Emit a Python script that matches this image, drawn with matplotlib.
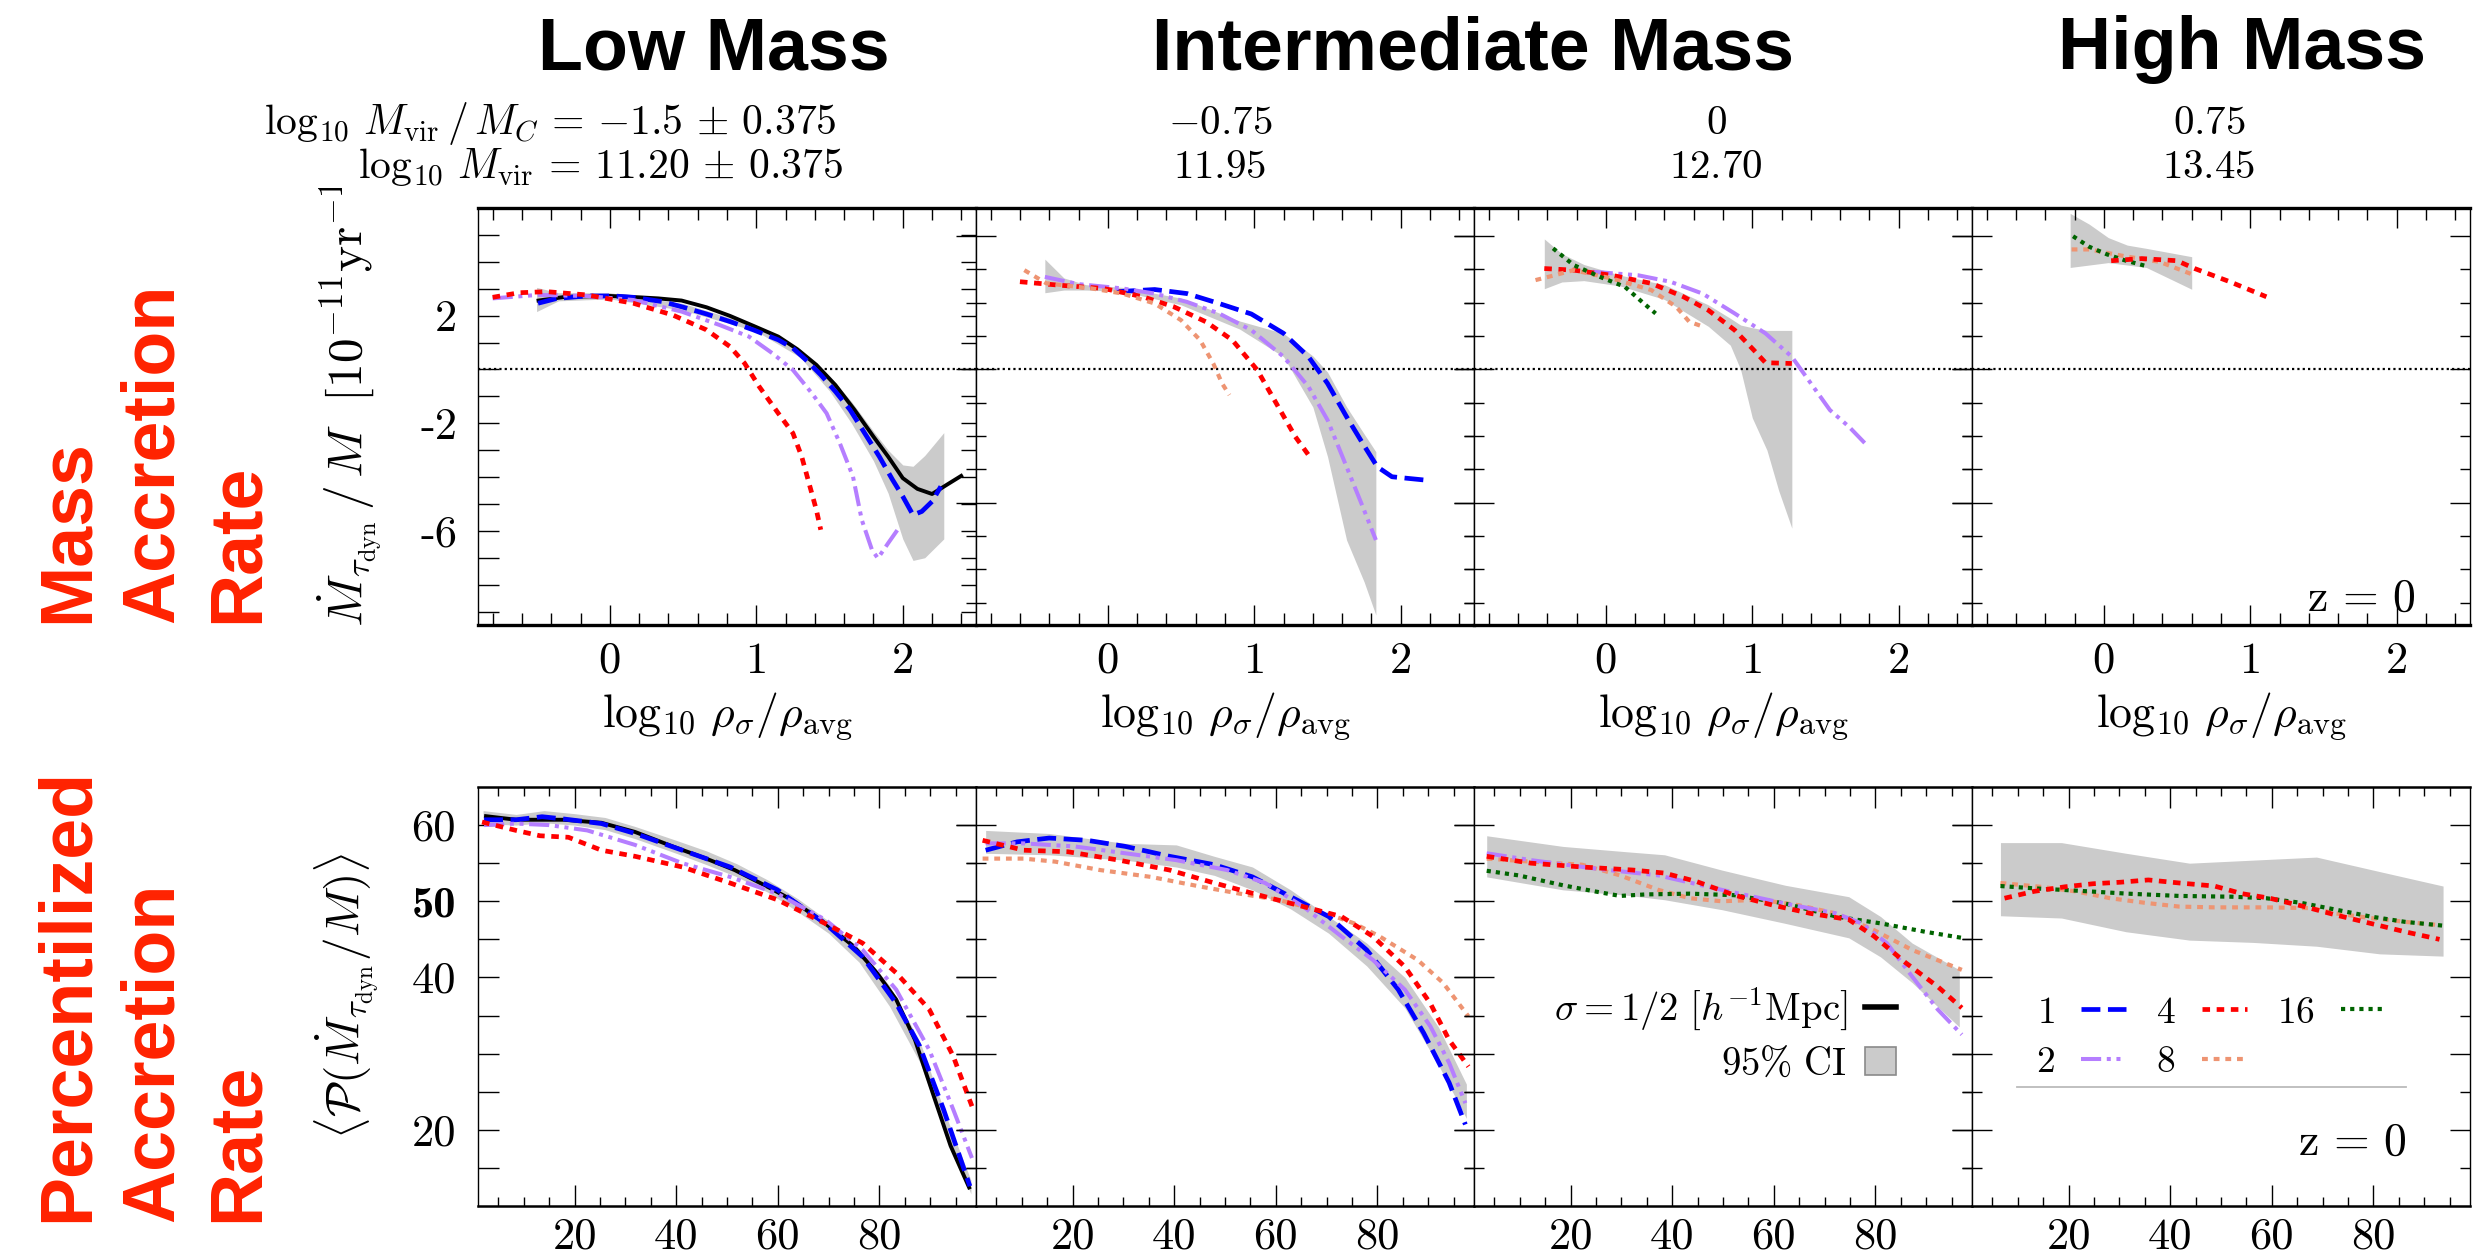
import numpy as np
import matplotlib
matplotlib.use('Agg')
import matplotlib.pyplot as plt
from matplotlib.lines import Line2D
from matplotlib.patches import Patch
from matplotlib.ticker import MultipleLocator, FixedLocator
from matplotlib.transforms import Bbox, TransformedBbox
from matplotlib.font_manager import FontProperties

plt.rcParams['mathtext.fontset'] = 'cm'
plt.rcParams['font.family'] = ['DejaVu Sans']

W, H, DPI = 2487, 1256, 100

# ---------------- text ----------------
mass_titles = ['Low Mass', 'Intermediate Mass', 'High Mass']
row_label_top = ['Mass', 'Accretion', 'Rate']
row_label_bot = ['Percentilized', 'Accretion', 'Rate']
mc_labels = [r'$\log_{10}\,M_{\rm vir}\,/\,M_C \,=\, {-1.5} \,\pm\, 0.375$', r'$-0.75$', r'$0$', r'$0.75$']
mvir_labels = [r'$\log_{10}\,M_{\rm vir} \,=\, 11.20 \,\pm\, 0.375$', r'$11.95$', r'$12.70$', r'$13.45$']
sigma_names = ['1', '2', '4', '8', '16']
half_label = r'$\sigma = 1/2\ [h^{-1}{\rm Mpc}]$'
ci_label = r'$95\%\ {\rm CI}$'
z_label = r'${\rm z}\, =\, 0$'
top_xlabel = r'$\log_{10}\,\rho_\sigma/\rho_{\rm avg}$'
top_ylabel = r'$\dot{M}_{\tau_{\rm dyn}}\,/\,M\ \ [10^{-11}{\rm yr}^{-1}]$'
bot_ylabel = r'$\langle\mathcal{P}(\dot{M}_{\tau_{\rm dyn}}/M)\rangle$'

top_xticks = [0, 1, 2]
top_xtick_labels = ['0', '1', '2']
top_yticks_p1 = list(range(-9, 6))
top_ytick_label_map = {2: '2', -2: '-2', -6: '-6'}
bot_xticks = [20, 40, 60, 80]
bot_xtick_labels = ['20', '40', '60', '80']
bot_yticks = [15, 20, 25, 30, 35, 40, 45, 50, 55, 60]
bot_ytick_label_map = {20: '20', 40: '40', 50: '50', 60: '60'}

# ---------------- data: top row (log10 rho_sigma/rho_avg) ----------------
# Low mass
t0_half_x = [-0.5, -0.3, 0.0, 0.2, 0.33, 0.49, 0.66, 0.82, 0.98, 1.15, 1.28, 1.41, 1.54, 1.67, 1.8, 1.9, 2.0, 2.1, 2.2, 2.3, 2.41]
t0_half_y = [2.55, 2.7, 2.73, 2.68, 2.64, 2.56, 2.31, 1.99, 1.62, 1.22, 0.75, 0.17, -0.58, -1.5, -2.5, -3.24, -4.04, -4.44, -4.63, -4.29, -3.92]
t0_s1_x = [-0.49, -0.36, -0.16, 0.03, 0.16, 0.36, 0.49, 0.66, 0.82, 0.98, 1.15, 1.25, 1.34, 1.44, 1.54, 1.64, 1.74, 1.84, 1.93, 2.0, 2.07, 2.13, 2.2, 2.26]
t0_s1_y = [2.46, 2.64, 2.73, 2.73, 2.68, 2.52, 2.33, 2.06, 1.78, 1.47, 1.1, 0.79, 0.35, -0.2, -0.82, -1.5, -2.37, -3.24, -4.1, -4.72, -5.41, -5.28, -4.91, -4.35]
t0_s2_x = [-0.8, -0.49, -0.16, 0.16, 0.49, 0.75, 0.95, 1.11, 1.25, 1.38, 1.48, 1.57, 1.66, 1.72, 1.79, 1.83, 1.9, 1.98]
t0_s2_y = [2.64, 2.77, 2.73, 2.58, 2.15, 1.65, 1.22, 0.6, -0.02, -0.89, -1.63, -2.74, -3.98, -5.59, -6.71, -7.02, -6.46, -5.84]
t0_s4_x = [-0.8, -0.62, -0.43, -0.16, 0.16, 0.43, 0.66, 0.82, 0.92, 1.02, 1.15, 1.25, 1.31, 1.36, 1.41, 1.44]
t0_s4_y = [2.68, 2.85, 2.89, 2.77, 2.46, 2.02, 1.47, 0.85, 0.23, -0.64, -1.63, -2.37, -3.24, -4.23, -5.22, -5.96]
t0_ci_x = [-0.5, -0.35, 0.0, 0.5, 1.0, 1.3, 1.5, 1.65, 1.8, 1.9, 2.0, 2.07, 2.15, 2.28]
t0_ci_hi = [3.05, 2.85, 2.85, 2.45, 1.62, 0.75, -0.25, -1.2, -2.3, -3.0, -3.55, -3.6, -3.2, -2.35]
t0_ci_lo = [2.15, 2.55, 2.62, 2.2, 1.42, 0.45, -0.8, -2.0, -3.4, -4.6, -6.3, -7.1, -7.0, -6.3]

# Intermediate mass (-0.75)
t1_s1_x = [0.06, 0.32, 0.54, 0.76, 0.98, 1.2, 1.37, 1.5, 1.63, 1.74, 1.84, 1.94, 2.16]
t1_s1_y = [2.89, 2.97, 2.82, 2.45, 2.06, 1.34, 0.47, -0.52, -1.76, -2.75, -3.62, -3.99, -4.11]
t1_s2_x = [-0.43, -0.2, 0.1, 0.32, 0.54, 0.76, 0.98, 1.2, 1.37, 1.5, 1.63, 1.74, 1.83]
t1_s2_y = [3.44, 3.17, 3.01, 2.82, 2.51, 2.08, 1.46, 0.47, -0.64, -1.88, -3.62, -5.1, -6.34]
t1_s4_x = [-0.6, -0.33, -0.03, 0.24, 0.45, 0.67, 0.85, 1.02, 1.15, 1.28, 1.37]
t1_s4_y = [3.26, 3.13, 3.01, 2.7, 2.33, 1.77, 1.09, -0.02, -1.26, -2.5, -3.18]
t1_s8_x = [-0.57, -0.42, -0.11, 0.1, 0.32, 0.5, 0.63, 0.72, 0.78, 0.83]
t1_s8_y = [3.69, 3.2, 3.01, 2.82, 2.45, 1.83, 1.09, 0.22, -0.52, -0.95]
t1_ci_x = [-0.43, -0.3, -0.15, 0.1, 0.5, 0.9, 1.2, 1.4, 1.5, 1.63, 1.75, 1.83]
t1_ci_hi = [4.1, 3.4, 3.15, 3.05, 2.65, 1.8, 1.34, 0.5, -0.1, -1.39, -2.4, -3.06]
t1_ci_lo = [2.85, 2.95, 2.95, 2.9, 2.4, 1.5, 0.47, -1.4, -3.24, -6.34, -7.9, -9.13]

# Intermediate mass (0)
t2_s2_x = [-0.09, 0.22, 0.44, 0.66, 0.88, 1.09, 1.27, 1.4, 1.53, 1.66, 1.77]
t2_s2_y = [3.63, 3.5, 3.26, 2.82, 2.08, 1.34, 0.47, -0.52, -1.51, -2.13, -2.75]
t2_s4_x = [-0.42, -0.22, 0.04, 0.31, 0.53, 0.7, 0.88, 1.01, 1.09, 1.27]
t2_s4_y = [3.75, 3.69, 3.5, 3.2, 2.7, 2.2, 1.46, 0.72, 0.25, 0.22]
t2_s8_x = [-0.48, -0.35, -0.22, 0.04, 0.31, 0.48, 0.57, 0.68]
t2_s8_y = [3.32, 3.5, 3.69, 3.38, 2.95, 2.33, 1.77, 1.56]
t2_s16_x = [-0.36, -0.22, -0.04, 0.13, 0.26, 0.34]
t2_s16_y = [4.5, 3.88, 3.44, 3.07, 2.45, 2.08]
t2_ci_x = [-0.42, -0.3, -0.15, 0.1, 0.4, 0.7, 0.85, 0.92, 1.0, 1.1, 1.18, 1.27]
t2_ci_hi = [4.85, 4.3, 3.9, 3.5, 3.15, 2.4, 1.9, 1.65, 1.55, 1.45, 1.45, 1.45]
t2_ci_lo = [3.0, 3.25, 3.3, 3.1, 2.6, 1.6, 0.9, 0.0, -1.8, -3.0, -4.5, -5.9]

# High mass
t3_s4_x = [0.05, 0.26, 0.5, 0.62, 0.86, 1.11]
t3_s4_y = [4.04, 4.12, 4.04, 3.75, 3.26, 2.7]
t3_s8_x = [-0.22, -0.1, 0.14, 0.38, 0.6]
t3_s8_y = [4.46, 4.46, 4.21, 4.0, 3.54]
t3_s16_x = [-0.21, -0.1, 0.02, 0.14, 0.29]
t3_s16_y = [4.95, 4.56, 4.28, 4.06, 3.84]
t3_ci_x = [-0.23, -0.1, 0.03, 0.16, 0.29, 0.6]
t3_ci_hi = [5.8, 5.4, 4.9, 4.62, 4.5, 4.19]
t3_ci_lo = [3.79, 3.88, 3.97, 3.88, 3.79, 2.98]

# ---------------- data: bottom row (percentile) ----------------
b0_half_x = [2.2, 8.5, 17.9, 25.3, 31.9, 39.3, 45.9, 51.5, 58.0, 62.7, 69.3, 74.9, 79.5, 83.3, 87.0, 90.7, 94.0, 97.8]
b0_half_y = [61.2, 60.7, 60.7, 60.3, 59.1, 57.2, 55.6, 54.1, 51.9, 50.2, 47.1, 44.1, 40.6, 37.1, 31.8, 24.4, 17.9, 12.2]
b0_s1_x = [2.2, 8.5, 13.6, 17.9, 25.3, 31.9, 41.2, 50.6, 59.9, 69.3, 76.7, 83.3, 87.9, 92.6, 97.8]
b0_s1_y = [60.7, 60.7, 61.1, 60.8, 60.2, 58.9, 56.7, 54.5, 51.5, 47.1, 42.7, 36.6, 31.0, 22.7, 12.6]
b0_s2_x = [2.2, 8.5, 15.0, 22.5, 31.9, 41.2, 50.6, 59.9, 69.3, 76.7, 83.3, 89.8, 94.5, 98.2]
b0_s2_y = [60.0, 60.2, 60.0, 59.3, 57.4, 55.0, 53.2, 51.0, 47.6, 43.6, 38.4, 30.5, 22.7, 16.3]
b0_s4_x = [1.8, 8.5, 13.2, 18.8, 25.3, 31.9, 41.2, 50.6, 59.9, 69.3, 76.7, 83.3, 89.8, 94.5, 98.2]
b0_s4_y = [60.4, 59.3, 58.6, 58.4, 56.7, 55.9, 54.5, 52.4, 50.2, 47.1, 44.5, 40.6, 35.8, 29.7, 23.1]
b0_ci_x = [2, 8.5, 14, 20, 26, 32, 40, 46, 52, 58, 64, 70, 76, 82, 88, 93, 98]
b0_ci_hi = [61.9, 61.4, 61.9, 61.5, 61.0, 59.8, 58.0, 56.6, 54.9, 52.8, 50.3, 47.4, 43.8, 38.9, 31.5, 22.0, 13.4]
b0_ci_lo = [60.2, 60.0, 60.3, 60.0, 59.4, 58.2, 56.3, 54.8, 53.2, 51.2, 48.6, 45.8, 42.0, 36.2, 28.8, 19.5, 11.6]

b1_s1_x = [2.9, 9.1, 15.4, 22.9, 30.4, 39.1, 47.9, 55.4, 62.9, 70.4, 77.9, 84.1, 89.1, 94.1, 97.3]
b1_s1_y = [56.7, 57.8, 58.3, 58.0, 57.2, 55.9, 54.8, 53.2, 50.6, 48.0, 43.6, 38.4, 32.7, 26.2, 20.7]
b1_s2_x = [2.9, 10.4, 20.4, 30.4, 40.4, 50.4, 57.9, 65.4, 72.9, 79.1, 85.4, 90.4, 94.1, 97.3]
b1_s2_y = [57.6, 57.6, 57.2, 56.3, 55.4, 54.1, 52.4, 49.3, 45.4, 42.3, 38.4, 33.6, 28.8, 23.5]
b1_s4_x = [2.3, 10.4, 19.1, 29.1, 39.1, 47.9, 57.9, 65.4, 72.9, 79.1, 85.4, 90.4, 94.1, 97.9]
b1_s4_y = [58.0, 56.7, 56.5, 55.4, 54.1, 52.4, 50.6, 49.3, 48.0, 45.4, 41.4, 36.6, 31.8, 28.3]
b1_s8_x = [2.3, 10.4, 16.6, 25.4, 35.4, 45.4, 52.9, 60.4, 67.9, 75.4, 80.4, 87.9, 92.9, 97.9]
b1_s8_y = [55.6, 55.6, 55.2, 54.1, 53.2, 51.9, 51.0, 50.2, 48.9, 47.1, 45.4, 42.3, 39.3, 34.9]
b1_ci_x = [2.9, 15.4, 30.4, 40.4, 47.9, 55.4, 62.9, 70.4, 77.9, 85.4, 92, 97.5]
b1_ci_hi = [59.3, 58.9, 57.6, 57.4, 55.9, 54.5, 51.5, 48.0, 44.5, 40.0, 33.5, 26.0]
b1_ci_lo = [56.3, 56.1, 55.4, 54.5, 53.4, 51.5, 49.0, 45.8, 41.5, 36.0, 28.5, 21.5]

b2_s2_x = [3.5, 12.25, 24.75, 37.25, 49.75, 62.25, 72.25, 77.25, 82.25, 87.25, 92.25, 97.0]
b2_s2_y = [56.3, 55.4, 54.3, 53.4, 51.5, 49.7, 48.4, 47.1, 44.5, 40.1, 35.8, 32.5]
b2_s4_x = [3.5, 12.25, 22.25, 32.25, 38.5, 44.75, 52.25, 59.75, 67.25, 74.75, 79.75, 86.0, 92.25, 97.0]
b2_s4_y = [55.9, 55.0, 54.5, 54.1, 53.7, 52.6, 50.8, 49.5, 48.4, 47.6, 45.4, 41.9, 38.8, 36.0]
b2_s8_x = [3.5, 12.25, 22.25, 29.75, 37.25, 43.5, 49.75, 57.25, 64.75, 72.25, 79.75, 87.25, 97.0]
b2_s8_y = [55.6, 55.2, 54.8, 53.4, 51.5, 50.4, 50.0, 50.2, 49.5, 48.4, 46.2, 43.6, 41.0]
b2_s16_x = [3.5, 9.75, 18.5, 24.75, 29.75, 34.75, 43.5, 52.25, 62.25, 72.25, 81.0, 89.75, 97.0]
b2_s16_y = [54.0, 53.4, 52.1, 51.3, 50.7, 50.9, 51.0, 50.8, 49.7, 48.0, 47.1, 46.0, 45.2]
b2_ci_x = [3.5, 18.5, 31.0, 38.5, 49.75, 62.25, 74.75, 81.0, 87.25, 96.5]
b2_ci_hi = [58.6, 57.2, 56.5, 56.1, 54.1, 52.1, 50.6, 48.0, 44.5, 41.0]
b2_ci_lo = [53.2, 51.5, 50.8, 50.2, 48.9, 47.1, 45.2, 42.7, 39.3, 33.5]

b3_s4_x = [7.4, 13.2, 19.3, 24.8, 30.2, 35.7, 41.8, 48.7, 54.1, 59.6, 66.4, 72.6, 79.4, 86.2, 93.0]
b3_s4_y = [50.4, 51.3, 51.9, 52.3, 52.5, 52.8, 52.4, 52.0, 51.0, 50.4, 49.3, 48.2, 47.1, 46.0, 45.0]
b3_s8_x = [6.6, 14.5, 21.4, 28.2, 35.0, 41.8, 48.7, 58.9, 67.8, 72.6, 79.4, 86.2, 92.4]
b3_s8_y = [52.4, 51.9, 51.3, 50.4, 49.8, 49.3, 49.2, 49.2, 49.1, 48.4, 47.8, 47.3, 46.9]
b3_s16_x = [6.6, 13.2, 21.4, 31.6, 41.8, 52.1, 58.9, 65.7, 72.6, 79.4, 86.2, 93.7]
b3_s16_y = [52.0, 51.7, 51.4, 51.0, 50.7, 50.6, 50.4, 49.8, 48.9, 48.0, 47.3, 46.8]
b3_ci_x = [6.6, 18.6, 31.3, 43.8, 56.3, 68.8, 81.2, 93.7]
b3_ci_hi = [57.7, 57.7, 56.3, 55.0, 55.4, 55.8, 53.9, 52.0]
b3_ci_lo = [48.1, 47.8, 46.0, 44.9, 44.6, 44.1, 43.1, 42.8]

# ---------------- styles ----------------
PURPLE = '#B57EFF'
SALMON = '#EE9472'
STYLE = {
    'half': dict(color='black', lw=2.8, ls='-'),
    '1': dict(color='#0000FF', lw=3.4, dashes=(4.0, 1.6)),
    '2': dict(color=PURPLE, lw=2.9, dashes=(5.0, 1.4, 1.0, 1.4, 1.0, 1.4)),
    '4': dict(color='#FF0000', lw=3.4, dashes=(1.6, 1.4)),
    '8': dict(color=SALMON, lw=3.0, dashes=(1.4, 1.4)),
    '16': dict(color='#006400', lw=3.0, dashes=(1.0, 1.2)),
}
BAND = '#CBCBCB'

top_panels = [
    dict(ci=(t0_ci_x, t0_ci_lo, t0_ci_hi), lines=[('half', t0_half_x, t0_half_y), ('1', t0_s1_x, t0_s1_y), ('2', t0_s2_x, t0_s2_y), ('4', t0_s4_x, t0_s4_y)]),
    dict(ci=(t1_ci_x, t1_ci_lo, t1_ci_hi), lines=[('1', t1_s1_x, t1_s1_y), ('2', t1_s2_x, t1_s2_y), ('4', t1_s4_x, t1_s4_y), ('8', t1_s8_x, t1_s8_y)]),
    dict(ci=(t2_ci_x, t2_ci_lo, t2_ci_hi), lines=[('2', t2_s2_x, t2_s2_y), ('4', t2_s4_x, t2_s4_y), ('8', t2_s8_x, t2_s8_y), ('16', t2_s16_x, t2_s16_y)]),
    dict(ci=(t3_ci_x, t3_ci_lo, t3_ci_hi), lines=[('8', t3_s8_x, t3_s8_y), ('16', t3_s16_x, t3_s16_y), ('4', t3_s4_x, t3_s4_y)]),
]
bot_panels = [
    dict(ci=(b0_ci_x, b0_ci_lo, b0_ci_hi), lines=[('half', b0_half_x, b0_half_y), ('1', b0_s1_x, b0_s1_y), ('2', b0_s2_x, b0_s2_y), ('4', b0_s4_x, b0_s4_y)]),
    dict(ci=(b1_ci_x, b1_ci_lo, b1_ci_hi), lines=[('8', b1_s8_x, b1_s8_y), ('1', b1_s1_x, b1_s1_y), ('2', b1_s2_x, b1_s2_y), ('4', b1_s4_x, b1_s4_y)]),
    dict(ci=(b2_ci_x, b2_ci_lo, b2_ci_hi), lines=[('8', b2_s8_x, b2_s8_y), ('16', b2_s16_x, b2_s16_y), ('2', b2_s2_x, b2_s2_y), ('4', b2_s4_x, b2_s4_y)]),
    dict(ci=(b3_ci_x, b3_ci_lo, b3_ci_hi), lines=[('8', b3_s8_x, b3_s8_y), ('16', b3_s16_x, b3_s16_y), ('4', b3_s4_x, b3_s4_y)]),
]

# ---------------- layout helpers ----------------
def fx(x):
    return x / W

def fy(y):
    return 1 - y / H

def px_rect(left, top, width, height):
    return [left / W, 1 - (top + height) / H, width / W, height / H]

PANEL_L, PANEL_W = 478, 498
TOP_T, TOP_H = 208, 417
BOT_T, BOT_H = 787, 419
CM = FontProperties(family='cmr10', size=32)
CMB = FontProperties(family='cmb10', size=32)

fig = plt.figure(figsize=(W / DPI, H / DPI), dpi=DPI)

STEP = 100 / 80.75  # spacing of the second tick set on panels 2-4


def style_spines(ax, top_lw, bot_lw):
    ax.spines['top'].set_linewidth(top_lw)
    ax.spines['bottom'].set_linewidth(bot_lw)
    ax.spines['left'].set_linewidth(1.0)
    ax.spines['right'].set_linewidth(1.0)


def right_ticks(ax, major, minor, direction, lmaj, lmin):
    axr = ax.twinx()
    axr.set_ylim(ax.get_ylim())
    for s in axr.spines.values():
        s.set_visible(False)
    axr.yaxis.set_major_locator(FixedLocator(major))
    axr.yaxis.set_minor_locator(FixedLocator(minor))
    axr.tick_params(axis='y', which='major', direction=direction, length=lmaj, width=1.0,
                    right=True, left=False, labelright=False)
    axr.tick_params(axis='y', which='minor', direction=direction, length=lmin, width=1.0,
                    right=True, left=False)
    return axr


# ---------------- top row ----------------
top_axes = []
for i, pdata in enumerate(top_panels):
    ax = fig.add_axes(px_rect(PANEL_L + i * PANEL_W, TOP_T, PANEL_W, TOP_H))
    top_axes.append(ax)
    ax.set_xlim(-0.9, 2.5)
    ax.set_ylim(-9.5, 6)
    cx, clo, chi = pdata['ci']
    ax.fill_between(cx, clo, chi, color=BAND, lw=0, zorder=1)
    ax.axhline(0, color='black', lw=1.6, ls=(0, (1, 1.4)), zorder=2)
    for name, xs, ys in pdata['lines']:
        ax.plot(xs, ys, zorder=3, solid_capstyle='butt', dash_capstyle='butt', **STYLE[name])
    style_spines(ax, 2.4, 2.4)
    ax.set_xticks(top_xticks)
    ax.set_xticklabels(top_xtick_labels, fontproperties=CM)
    ax.xaxis.set_minor_locator(MultipleLocator(0.2))
    ax.tick_params(axis='x', which='major', direction='in', top=True, bottom=True,
                   length=14.5, width=1.0, pad=12)
    ax.tick_params(axis='x', which='minor', direction='in', top=True, bottom=True,
                   length=8.5, width=1.0)
    ax.set_xlabel(top_xlabel, fontsize=33, labelpad=6)
    if i == 0:
        ax.set_yticks(top_yticks_p1)
        ax.set_yticklabels([top_ytick_label_map.get(v, '') for v in top_yticks_p1], fontproperties=CM)
        ax.tick_params(axis='y', which='major', direction='in', left=True, right=False,
                       length=15, width=1.0, pad=15)
        right_ticks(ax, top_yticks_p1, [], 'inout', 22, 11)
    else:
        ks = list(range(-7, 5))
        ax.yaxis.set_major_locator(FixedLocator([k * STEP for k in ks if k % 4 == 0]))
        ax.yaxis.set_minor_locator(FixedLocator([k * STEP for k in ks if k % 4 != 0]))
        ax.tick_params(axis='y', which='major', direction='inout', left=True, right=False,
                       length=29, width=1.0, labelleft=False)
        ax.tick_params(axis='y', which='minor', direction='inout', left=True, right=False,
                       length=14, width=1.0)
        last = (i == 3)
        right_ticks(ax, [k * STEP for k in ks if k % 4 == 0], [k * STEP for k in ks if k % 4 != 0],
                    'in' if last else 'inout', 14.5 if last else 29, 7 if last else 14)

top_axes[3].text(0.89, 0.035, z_label, transform=top_axes[3].transAxes, ha='right',
                 va='baseline', fontsize=33)

# ---------------- bottom row ----------------
bot_axes = []
for i, pdata in enumerate(bot_panels):
    ax = fig.add_axes(px_rect(PANEL_L + i * PANEL_W, BOT_T, PANEL_W, BOT_H))
    bot_axes.append(ax)
    ax.set_xlim(1, 99)
    ax.set_ylim(10, 65)
    cx, clo, chi = pdata['ci']
    ax.fill_between(cx, clo, chi, color=BAND, lw=0, zorder=1)
    for name, xs, ys in pdata['lines']:
        ax.plot(xs, ys, zorder=3, solid_capstyle='butt', dash_capstyle='butt', **STYLE[name])
    style_spines(ax, 1.8, 1.8)
    ax.set_xticks(bot_xticks)
    ax.set_xticklabels(bot_xtick_labels, fontproperties=CM)
    ax.xaxis.set_minor_locator(FixedLocator([v for v in range(5, 100, 5) if v % 20 != 0]))
    ax.tick_params(axis='x', which='major', direction='in', top=True, bottom=True,
                   length=15, width=1.0, pad=8)
    ax.tick_params(axis='x', which='minor', direction='in', top=True, bottom=True,
                   length=6.5, width=1.0)
    maj = [v for v in bot_yticks if v % 10 == 0]
    mnr = [v for v in bot_yticks if v % 10 != 0]
    if i == 0:
        ax.set_yticks(bot_yticks)
        labs = ax.set_yticklabels([bot_ytick_label_map.get(v, '') for v in bot_yticks])
        for v, lab in zip(bot_yticks, labs):
            lab.set_fontproperties(CMB if v == 50 else CM)
        ax.tick_params(axis='y', which='major', direction='in', left=True, right=False,
                       length=15, width=1.0, pad=16)
        right_ticks(ax, maj, mnr, 'inout', 29, 14)
    else:
        ax.yaxis.set_major_locator(FixedLocator(maj))
        ax.yaxis.set_minor_locator(FixedLocator(mnr))
        ax.tick_params(axis='y', which='major', direction='inout', left=True, right=False,
                       length=29, width=1.0, labelleft=False)
        ax.tick_params(axis='y', which='minor', direction='inout', left=True, right=False,
                       length=14, width=1.0)
        last = (i == 3)
        right_ticks(ax, maj, mnr, 'in' if last else 'inout', 14.5 if last else 29, 7 if last else 14)

bot_axes[3].text(0.873, 0.122, z_label, transform=bot_axes[3].transAxes, ha='right',
                 va='baseline', fontsize=33)

# legend: sigma = 1/2 and CI (panel 3, bottom row)
h_half = Line2D([], [], color='black', lw=4.0)
h_ci = Patch(facecolor=BAND, edgecolor='#8A8A8A', lw=1.2)
bot_axes[2].legend([h_half, h_ci], [half_label, ci_label], loc='center right',
                   bbox_to_anchor=(0.847, 0.41), frameon=False, markerfirst=False,
                   fontsize=28, handlelength=0.8, handletextpad=0.45, borderpad=0,
                   labelspacing=0.3, borderaxespad=0)

# legend: smoothing scales (panel 4, bottom row)
sig_handles = [Line2D([], [], **STYLE[s]) for s in sigma_names]
bot_axes[3].legend(sig_handles, [r'$%s$' % s for s in sigma_names], loc='center left',
                   bbox_to_anchor=(0.128, 0.403), frameon=False, markerfirst=False, ncol=3,
                   fontsize=27, handlelength=1.2, handletextpad=0.7, columnspacing=0.8,
                   borderpad=0, labelspacing=0.35, borderaxespad=0)
bot_axes[3].plot([0.09, 0.871], [0.284, 0.284], transform=bot_axes[3].transAxes,
                 color='#BBBBBB', lw=1.3, zorder=5)

# ---------------- figure texts ----------------
title_font = dict(family='Liberation Sans', weight='bold', size=53)
for name, xc in zip(mass_titles, [714, 1473, 2242]):
    fig.text(fx(xc), fy(69), name, ha='center', va='baseline', **title_font)

fig.text(fx(837), fy(134), mc_labels[0], ha='right', va='baseline', fontsize=30)
fig.text(fx(843), fy(178), mvir_labels[0], ha='right', va='baseline', fontsize=30)
for lab1, lab2, xc in zip(mc_labels[1:], mvir_labels[1:], [1220, 1716, 2209]):
    fig.text(fx(xc), fy(134), lab1, ha='center', va='baseline', fontsize=29.5)
    fig.text(fx(xc), fy(178), lab2, ha='center', va='baseline', fontsize=29.5)

RED = '#FF2200'
for word, xb in zip(row_label_top, [88, 173, 258]):
    fig.text(fx(xb), fy(623), word, rotation=90, rotation_mode='anchor', ha='left',
             va='baseline', color=RED, **title_font)
for word, xb in zip(row_label_bot, [88, 173, 258]):
    fig.text(fx(xb), fy(1222), word, rotation=90, rotation_mode='anchor', ha='left',
             va='baseline', color=RED, **title_font)

tl = fig.text(fx(350), fy(627), top_ylabel, rotation=90, ha='center', va='bottom', fontsize=35.5)
tl.set_clip_box(TransformedBbox(Bbox([[0, 0], [1, fy(188)]]), fig.transFigure))
tl.set_clip_on(True)
fig.text(fx(347), fy(996), bot_ylabel, rotation=90, ha='center', va='center', fontsize=34)

fig.savefig('out.png', dpi=DPI)
